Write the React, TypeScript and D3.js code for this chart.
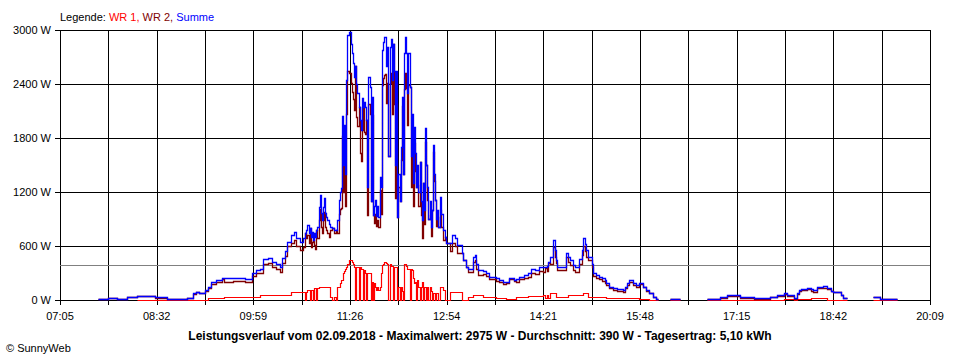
import React from "react";
import * as d3 from "d3";

// ---------- Data ----------
const X_TICK_LABELS = ["07:05", "08:32", "09:59", "11:26", "12:54", "14:21", "15:48", "17:15", "18:42", "20:09"];
const Y_TICKS = [0, 600, 1200, 1800, 2400, 3000];
const AVERAGE_W = 390;
const TITLE = "Leistungsverlauf vom 02.09.2018 - Maximalwert: 2975 W - Durchschnitt: 390 W - Tagesertrag: 5,10 kWh";
const COPYRIGHT = "\u00A9 SunnyWeb";

const TIMES = [
  "07:39", "07:48", "07:56", "08:05", "08:14", "08:31", "08:41", "08:59",
  "09:05", "09:08", "09:10", "09:16", "09:18", "09:21", "09:26", "09:31", "09:33", "09:38", "09:41", "09:46", "09:52", "09:58",
  "10:02", "10:05", "10:08", "10:12", "10:16", "10:20", "10:23", "10:25", "10:28", "10:30", "10:33", "10:36", "10:38", "10:41", "10:44",
  "10:46", "10:47", "10:48", "10:49", "10:50", "10:51", "10:52", "10:53", "10:54", "10:55", "10:56", "10:57", "10:58", "10:59",
  "11:00", "11:01", "11:02", "11:03", "11:04", "11:05", "11:06", "11:07", "11:08", "11:10", "11:12", "11:14", "11:15", "11:16", "11:17", "11:18",
  "11:19", "11:20", "11:21", "11:22", "11:23", "11:24", "11:25", "11:26", "11:27", "11:28", "11:29", "11:30", "11:31", "11:32", "11:33", "11:34", "11:35", "11:36", "11:37", "11:38", "11:39", "11:40",
  "11:41", "11:42", "11:43", "11:44", "11:45", "11:46", "11:47", "11:48", "11:49", "11:50", "11:51", "11:52", "11:53", "11:54", "11:55", "11:56", "11:57", "11:58", "11:59", "12:00",
  "12:01", "12:02", "12:03", "12:04", "12:05", "12:06", "12:07", "12:08", "12:09", "12:10", "12:11", "12:12", "12:13", "12:14", "12:15", "12:16", "12:17", "12:18", "12:19", "12:20",
  "12:21", "12:22", "12:23", "12:24", "12:25", "12:26", "12:27", "12:28", "12:29", "12:30", "12:31", "12:32", "12:33", "12:34", "12:35", "12:36", "12:37", "12:38", "12:39", "12:40", "12:41", "12:42", "12:43", "12:44", "12:45", "12:46", "12:47", "12:48",
  "12:50", "12:52", "12:53", "12:56", "12:58", "13:01", "13:03", "13:05", "13:07", "13:08", "13:11", "13:13", "13:17", "13:19", "13:20", "13:22", "13:26", "13:29", "13:32", "13:35",
  "13:38", "13:41", "13:44", "13:47", "13:50", "13:54", "13:56", "13:59", "14:03", "14:07", "14:09", "14:13", "14:17", "14:20", "14:22", "14:24", "14:25", "14:27", "14:29", "14:31", "14:32", "14:33",
  "14:37", "14:41", "14:43", "14:45", "14:47", "14:49", "14:53", "14:55", "14:56", "14:58", "14:59", "15:01", "15:04", "15:05", "15:08", "15:11", "15:13", "15:16", "15:17",
  "15:20", "15:23", "15:27", "15:32", "15:34", "15:36", "15:38", "15:41", "15:44", "15:47", "15:50", "15:53", "15:56", "15:59", "16:02", "16:04", "16:05",
  "16:15", "16:24", "16:25", "16:48", "17:00", "17:06", "17:18", "17:30", "17:45", "17:51", "17:57", "18:00", "18:06", "18:09", "18:11", "18:13", "18:18", "18:22", "18:24", "18:27", "18:33", "18:36", "18:40", "18:42", "18:49", "18:51", "18:54", "18:55", "19:18", "19:24", "19:30", "19:39", "19:40",
];

// WR 1 (red)
const WR1: (number | null)[] = [
  null, null, null, null, 3, 3, 2, 3,
  5, 5, 5, 5, 18, 18, 18, 18, 37, 37, 30, 30, 30, 30,
  30, 55, 55, 55, 55, 55, 55, 55, 55, 55, 92, 92, 92, 92, 92,
  0, 92, 110, 110, 0, 110, 110, 0, 130, 130, 0, 130, 150, 150,
  150, 150, 150, 150, 150, 150, 150, 150, 37, 0, 37, 0, 150, 150, 185, 220,
  220, 300, 320, 350, 370, 400, 450, 450, 440, 425, 400, 370, 0, 370, 370, 0, 370, 350, 350, 0, 330, 300,
  0, 300, 300, 300, 0, 200, 0, 185, 150, 110, 150, 110, 150, 300, 390, 400, 425, 420, 410, 400,
  0, 400, 380, 380, 0, 370, 370, 370, 0, 150, 0, 150, 100, 0, 400, 400, 380, 350, 350, 0,
  350, 330, 250, 185, 200, 0, 220, 150, 0, 150, 200, 0, 150, 150, 0, 150, 0, 150, 100, 0, 75, 75, 0, 75, 75, 0, 150, 150,
  110, 0, 0, 85, 85, 85, 85, 85, 0, 0, 0, 37, 55, 55, 55, 55, 30, 30, 30, 30,
  25, 25, 25, 10, 10, 10, 30, 30, 30, 45, 45, 45, 45, 55, 18, 55, 18, 75, 75, 75, 37, 37,
  37, 37, 55, 55, 55, 55, 55, 55, 80, 80, 80, 37, 37, 30, 30, 30, 30, 30, 18,
  18, 18, 18, 18, 18, 18, 18, 18, 18, 10, 10, 10, 0, 0, 0, 0, null,
  0, 0, null, 0, 5, 5, 5, 3, 5, 5, 10, 10, 5, 10, 10, 10, 10, 18, 18, 18, 18, 5, 5, 5, 3, 0, 0, null, 0, 0, 0, 0, null,
];

// WR 2 (dark red)
const WR2: (number | null)[] = [
  10, 20, 10, 30, 47, 27, 13, 22,
  70, 85, 75, 105, 132, 182, 202, 232, 203, 203, 215, 215, 205, 270,
  300, 295, 405, 415, 365, 345, 315, 415, 485, 595, 628, 668, 598, 558, 593,
  740, 688, 723, 630, 800, 590, 650, 667, 610, 570, 780, 685, 887, 1016,
  813, 740, 887, 980, 813, 776, 740, 700, 778, 800, 743, 780, 740, 960, 1015, 1020,
  1820, 1200, 1630, 1050, 2070, 2540, 2525, 2525, 2410, 2315, 2230, 2110, 2600, 2030, 1930, 2150, 1630, 1540, 1890, 2150, 1870, 1850,
  2000, 950, 2180, 2070, 1100, 2060, 950, 855, 960, 820, 890, 815, 1220, 960, 2390, 2470, 2501, 2506, 2190, 2415,
  1600, 2415, 2520, 2064, 2850, 2180, 1130, 2180, 925, 1250, 1100, 1550, 2160, 1400, 2340, 2525, 2360, 1950, 2390, 2370,
  1250, 1740, 1050, 1740, 1430, 1260, 1280, 1050, 1537, 950, 690, 1300, 850, 1757, 1500, 1110, 900, 950, 715, 1000, 1647, 1325, 1110, 825, 925, 815, 1000, 810,
  670, 700, 630, 545, 635, 600, 525, 525, 520, 445, 370, 313, 425, 445, 345, 275, 290, 270, 230, 230,
  215, 195, 175, 190, 230, 210, 200, 230, 250, 255, 305, 285, 325, 315, 352, 325, 407, 405, 590, 480, 413, 333,
  333, 483, 425, 390, 335, 315, 405, 500, 605, 540, 475, 443, 363, 270, 250, 230, 210, 190, 167,
  132, 112, 102, 92, 132, 167, 202, 167, 147, 175, 140, 105, 75, 37, 7, 7, null,
  10, 10, null, 7, 25, 50, 25, 15, 32, 50, 65, 45, 13, 65, 100, 110, 120, 102, 92, 132, 137, 125, 100, 88, 52, 20, 20, null, 30, 15, 7, 7, null,
];

// Summe (blue)
const SUMME: (number | null)[] = [
  10, 20, 10, 30, 50, 30, 15, 25,
  75, 90, 80, 110, 150, 200, 220, 250, 240, 240, 245, 245, 235, 300,
  330, 350, 460, 470, 420, 400, 370, 470, 540, 650, 720, 760, 690, 650, 685,
  740, 780, 833, 740, 800, 700, 760, 667, 740, 700, 780, 815, 1037, 1166,
  963, 890, 1037, 1130, 963, 926, 890, 850, 815, 800, 780, 780, 890, 1110, 1200, 1240,
  2040, 1500, 1950, 1400, 2440, 2940, 2975, 2975, 2850, 2740, 2630, 2480, 2600, 2400, 2300, 2150, 2000, 1890, 2240, 2150, 2200, 2150,
  2000, 1250, 2480, 2370, 1100, 2260, 950, 1040, 1110, 930, 1040, 925, 1370, 1260, 2780, 2870, 2926, 2926, 2600, 2815,
  1600, 2815, 2900, 2444, 2850, 2550, 1500, 2550, 925, 1400, 1100, 1700, 2260, 1400, 2740, 2925, 2740, 2300, 2740, 2370,
  1600, 2070, 1300, 1925, 1630, 1260, 1500, 1200, 1537, 1100, 890, 1300, 1000, 1907, 1500, 1260, 900, 1100, 815, 1000, 1722, 1400, 1110, 900, 1000, 815, 1150, 960,
  780, 700, 630, 630, 720, 685, 610, 610, 520, 445, 370, 350, 480, 500, 400, 330, 320, 300, 260, 260,
  240, 220, 200, 200, 240, 220, 230, 260, 280, 300, 350, 330, 370, 370, 370, 380, 425, 480, 665, 555, 450, 370,
  370, 520, 480, 445, 390, 370, 460, 555, 685, 620, 555, 480, 400, 300, 280, 260, 240, 220, 185,
  150, 130, 120, 110, 150, 185, 220, 185, 165, 185, 150, 115, 75, 37, 7, 7, null,
  10, 10, null, 7, 30, 55, 30, 18, 37, 55, 75, 55, 18, 75, 110, 120, 130, 120, 110, 150, 155, 130, 105, 93, 55, 20, 20, null, 30, 15, 7, 7, null,
];

const COLORS = { wr1: "#ff0000", wr2: "#800000", summe: "#0000ff", grid: "#000000", avg: "#808080" };

// ---------- Helpers ----------
const toMin = (s: string) => {
  const [h, m] = s.split(":").map(Number);
  return h * 60 + m;
};

const FONT = "'Liberation Sans', Arial, sans-serif";

export default function App() {
  const width = 960;
  const height = 360;
  const left = 60, right = 930, top = 30, bottom = 300;

  const x = d3.scaleLinear()
    .domain([toMin(X_TICK_LABELS[0]), toMin(X_TICK_LABELS[X_TICK_LABELS.length - 1])])
    .range([left, right]);
  const y = d3.scaleLinear().domain([0, 3000]).range([bottom, top]);

  const [d0, d1] = x.domain();
  const gridCount = (X_TICK_LABELS.length - 1) * 2;
  const gridMins = d3.range(gridCount + 1).map((i) => d0 + ((d1 - d0) * i) / gridCount);
  const labelMins = X_TICK_LABELS.map((_, i) => d0 + ((d1 - d0) * i) / (X_TICK_LABELS.length - 1));

  const snap = (v: number) => Math.round(v) + 0.5;

  const n = Math.min(TIMES.length, WR1.length, WR2.length, SUMME.length);
  const makePath = (vals: (number | null)[]) => {
    const pts = d3.range(n).map((i) => ({ t: toMin(TIMES[i]), v: vals[i] }));
    return d3.line<{ t: number; v: number | null }>()
      .defined((d) => d.v != null)
      .x((d) => Math.round(x(d.t)) + 0.5)
      .y((d) => Math.round(y(d.v as number)) + 0.5)
      .curve(d3.curveStepAfter)(pts) || "";
  };

  return (
    <div style={{ position: "fixed", left: 0, top: 0, width, height, background: "#fff" }}>
      <svg width={width} height={height} viewBox={`0 0 ${width} ${height}`} style={{ display: "block", fontFamily: FONT }}>
        <rect x={0} y={0} width={width} height={height} fill="#fff" />

        {/* legend */}
        <text x={60} y={21} fontSize={11} fill="#000">
          <tspan>Legende: </tspan>
          <tspan fill={COLORS.wr1}>WR 1,</tspan>
          <tspan fill={COLORS.wr2}> WR 2,</tspan>
          <tspan fill={COLORS.summe}> Summe</tspan>
        </text>

        {/* grid, ticks, average line */}
        <g shapeRendering="crispEdges">
          {Y_TICKS.map((v) => (
            <line key={"h" + v} x1={left - 5} x2={right} y1={snap(y(v))} y2={snap(y(v))} stroke={COLORS.grid} strokeWidth={1} />
          ))}
          {gridMins.map((m, i) => (
            <line key={"v" + i} x1={snap(x(m))} x2={snap(x(m))} y1={top} y2={bottom + 5} stroke={COLORS.grid} strokeWidth={1} />
          ))}
          <line x1={left} x2={right} y1={snap(y(AVERAGE_W))} y2={snap(y(AVERAGE_W))} stroke={COLORS.avg} strokeWidth={1} />
        </g>
        {Y_TICKS.map((v) => (
          <text key={"yl" + v} x={51} y={y(v) + 4} fontSize={11} textAnchor="end" fill="#000">
            {`${v} W`}
          </text>
        ))}
        {X_TICK_LABELS.map((lab, i) => (
          <text key={"xl" + i} x={x(labelMins[i])} y={320} fontSize={11} textAnchor="middle" fill="#000">
            {lab}
          </text>
        ))}

        {/* data */}
        <g fill="none" strokeLinejoin="miter">
          <path d={makePath(WR1)} stroke={COLORS.wr1} strokeWidth={1.2} />
          <path d={makePath(WR2)} stroke={COLORS.wr2} strokeWidth={1.3} />
          <path d={makePath(SUMME)} stroke={COLORS.summe} strokeWidth={1.3} />
        </g>

        {/* title & copyright */}
        <text x={480} y={340} fontSize={12} fontWeight="bold" textAnchor="middle" fill="#000">
          {TITLE}
        </text>
        <text x={6} y={352} fontSize={11} fill="#000">
          {COPYRIGHT}
        </text>
      </svg>
    </div>
  );
}
